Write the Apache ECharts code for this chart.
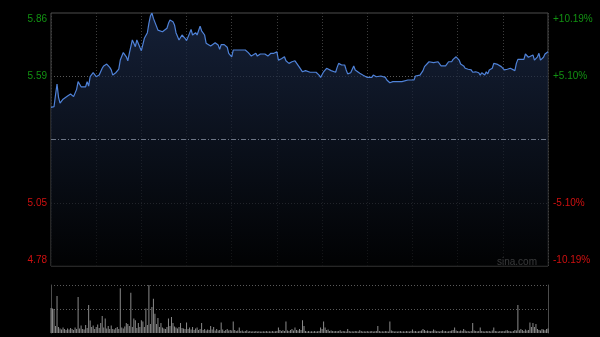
<!DOCTYPE html>
<html><head><meta charset="utf-8">
<script src="https://cdn.jsdelivr.net/npm/echarts@6/dist/echarts.min.js"></script>
<style>html,body{margin:0;padding:0;background:#000;}#c{width:600px;height:337px;}</style>
</head><body><div id="c"></div>
<script>
// minute index (0..330, HK session 09:30-12:00, 13:00-16:00) and price
const priceTrack = [
[0,5.457],[2,5.460],[3,5.510],[4,5.557],[5,5.500],[6,5.475],[8,5.492],[9,5.492],[11,5.506],[13,5.514],
[14,5.514],[15,5.503],[17,5.534],[18,5.567],[19,5.574],[20,5.545],[23,5.545],[24,5.567],[25,5.548],[26,5.588],
[28,5.605],[29,5.603],[30,5.588],[32,5.595],[34,5.624],[35,5.634],[36,5.628],[37,5.642],[38,5.648],[39,5.628],
[40,5.617],[41,5.595],[43,5.605],[45,5.620],[46,5.659],[48,5.691],[49,5.695],[50,5.673],[51,5.656],[52,5.688],
[54,5.745],[55,5.731],[56,5.716],[57,5.745],[59,5.714],[60,5.699],[62,5.752],[64,5.776],[65,5.816],[66,5.847],
[67,5.860],[68,5.837],[70,5.804],[71,5.787],[74,5.780],[75,5.773],[77,5.795],[78,5.816],[79,5.830],[81,5.823],
[82,5.809],[83,5.776],[85,5.745],[87,5.766],[89,5.752],[90,5.742],[92,5.773],[93,5.790],[94,5.766],[96,5.776],
[97,5.766],[99,5.804],[100,5.784],[102,5.766],[103,5.731],[106,5.719],[107,5.726],[109,5.733],[111,5.723],[112,5.705],
[113,5.725],[115,5.725],[117,5.714],[118,5.688],[120,5.673],[121,5.702],[124,5.702],[129,5.702],[131,5.691],[133,5.676],
[134,5.681],[136,5.688],[137,5.676],[139,5.685],[140,5.685],[142,5.685],[144,5.676],[146,5.688],[148,5.688],[149,5.694],
[150,5.694],[151,5.659],[152,5.662],[153,5.665],[155,5.673],[156,5.656],[158,5.645],[160,5.652],[162,5.656],[163,5.652],
[165,5.628],[166,5.620],[167,5.609],[169,5.614],[170,5.607],[172,5.607],[176,5.607],[178,5.595],[179,5.585],[181,5.609],
[183,5.624],[184,5.624],[186,5.614],[187,5.617],[189,5.607],[190,5.628],[191,5.645],[193,5.638],[195,5.638],[196,5.617],
[197,5.600],[199,5.605],[201,5.634],[202,5.617],[203,5.609],[205,5.603],[207,5.595],[208,5.595],[210,5.585],[211,5.592],
[213,5.585],[214,5.595],[216,5.588],[217,5.595],[219,5.591],[220,5.591],[222,5.585],[223,5.574],[225,5.562],[226,5.557],
[227,5.567],[228,5.574],[230,5.567],[233,5.567],[234,5.574],[237,5.574],[241,5.574],[242,5.591],[245,5.595],[247,5.614],
[248,5.631],[249,5.638],[251,5.652],[252,5.648],[254,5.648],[255,5.652],[257,5.652],[259,5.634],[260,5.642],[262,5.634],
[264,5.652],[266,5.652],[267,5.662],[269,5.673],[270,5.671],[271,5.659],[272,5.642],[274,5.634],[275,5.624],[277,5.620],
[279,5.617],[280,5.607],[282,5.609],[283,5.617],[284,5.605],[285,5.595],[286,5.605],[288,5.595],[289,5.609],[290,5.600],
[291,5.617],[293,5.624],[294,5.645],[296,5.642],[297,5.634],[299,5.631],[300,5.624],[301,5.617],[303,5.620],[305,5.624],
[306,5.620],[308,5.614],[309,5.645],[310,5.662],[311,5.656],[312,5.662],[314,5.662],[315,5.685],[317,5.671],[318,5.667],
[320,5.681],[321,5.659],[323,5.673],[324,5.688],[325,5.659],[327,5.671],[328,5.685],[330,5.695]
];
// per-minute volume (relative units), index = minute
const volumes = [
250,245,240,70,370,60,45,35,55,40,
30,45,35,50,40,30,55,40,360,45,
75,40,35,80,50,280,125,60,75,40,
60,85,50,100,170,55,145,45,70,40,
75,40,35,50,60,40,447,55,45,65,
100,90,70,403,60,145,127,50,100,60,
127,115,60,245,80,480,90,260,343,193,
90,150,60,100,55,45,40,60,145,70,
160,100,65,55,45,60,100,50,45,40,
105,40,55,35,60,30,45,55,30,40,
100,30,40,25,35,30,70,35,60,25,
40,25,30,105,35,20,30,40,25,30,
25,115,30,20,25,55,20,25,15,20,
27,15,20,15,18,15,20,15,18,15,
15,18,15,20,15,18,15,20,15,18,
20,55,30,20,27,20,115,25,20,30,
40,25,55,30,25,40,30,127,70,20,
15,20,15,18,15,20,15,18,20,55,
40,115,55,30,35,20,25,20,18,20,
18,20,27,15,20,18,15,40,20,15,
18,15,20,18,15,27,20,15,18,15,
20,15,18,20,15,18,20,70,20,15,
18,15,20,18,15,115,25,20,15,18,
15,18,20,15,18,15,20,18,15,20,
35,18,20,15,18,20,25,40,30,20,
25,20,18,20,35,25,18,20,15,20,
27,18,20,15,18,20,25,30,55,25,
20,18,25,20,40,25,18,20,15,20,
100,25,20,18,20,55,20,18,15,20,
18,20,15,25,55,20,18,15,20,18,
20,18,25,27,20,18,15,20,30,25,
280,27,40,30,20,35,25,30,105,60,
100,60,90,40,30,25,40,35,27,40,45
];
const prevClose = 5.32;
const priceMin = 4.78, priceMax = 5.86, priceStep = 0.27;
const leftTickLabels = ['4.78','5.05','','5.59','5.86'];
const rightTickLabels = ['-10.19%','-5.10%','','+5.10%','+10.19%'];
const sessionMinutes = 330, gridStepMinutes = 30;
const volumeMax = 480;

const GREEN = '#129212', RED = '#d01010';
function tickIdx(v){ return Math.round((v - priceMin) / priceStep); }
function makeFmt(labels){
  return function(v){
    const i = tickIdx(v); const s = labels[i];
    if (!s) return '';
    const c = v > prevClose ? 'g' : 'r';
    const pos = i === labels.length - 1 ? 't' : (i === 0 ? 'b' : 'm');
    return '{' + c + pos + '|' + s + '}';
  };
}
const rich = {
  gt:{color:GREEN, padding:[12,0,0,0], fontSize:10, fontFamily:'Liberation Sans, Arial'},
  gm:{color:GREEN, fontSize:10, fontFamily:'Liberation Sans, Arial'},
  rm:{color:RED, fontSize:10, fontFamily:'Liberation Sans, Arial'},
  rb:{color:RED, padding:[0,0,12,0], fontSize:10, fontFamily:'Liberation Sans, Arial'}
};

const chart = echarts.init(document.getElementById('c'), null, {renderer:'canvas'});
chart.setOption({
  backgroundColor:'#000',
  animation:false,
  textStyle:{fontFamily:'Liberation Sans, Arial'},
  grid:[
    {left:51, top:13, width:497, height:253, show:true, borderColor:'#4c4c4c', borderWidth:1, backgroundColor:'transparent'},
    {left:51, top:285, width:497, height:48}
  ],
  xAxis:[
    {type:'value', gridIndex:0, min:0, max:sessionMinutes, interval:gridStepMinutes,
     axisLine:{show:false}, axisTick:{show:false}, axisLabel:{show:false},
     splitLine:{show:true, lineStyle:{color:'#3e3e3e', type:[1,2], width:1}}},
    {type:'value', gridIndex:1, min:0, max:sessionMinutes,
     axisLine:{show:false}, axisTick:{show:false}, axisLabel:{show:false}, splitLine:{show:false}}
  ],
  yAxis:[
    {type:'value', gridIndex:0, position:'left', min:priceMin, max:priceMax, interval:priceStep,
     axisLine:{show:false}, axisTick:{show:false},
     axisLabel:{margin:4, formatter:makeFmt(leftTickLabels), rich:rich},
     splitLine:{show:true, lineStyle:{color:['rgba(0,0,0,0)','#5a5a5a','rgba(0,0,0,0)','#5a5a5a','rgba(0,0,0,0)'], type:[1,2], width:1}}},
    {type:'value', gridIndex:0, position:'right', min:priceMin, max:priceMax, interval:priceStep,
     axisLine:{show:false}, axisTick:{show:false},
     axisLabel:{margin:5, formatter:makeFmt(rightTickLabels), rich:rich},
     splitLine:{show:false}},
    {type:'value', gridIndex:1, position:'left', min:0, max:volumeMax, interval:volumeMax/2,
     axisLine:{show:true, lineStyle:{color:'#4c4c4c', width:1}}, axisTick:{show:false}, axisLabel:{show:false},
     splitLine:{show:true, lineStyle:{color:['rgba(0,0,0,0)','#5a5a5a','#5a5a5a'], type:[1,2], width:1}}},
    {type:'value', gridIndex:1, position:'right', min:0, max:volumeMax,
     axisLine:{show:true, lineStyle:{color:'#4c4c4c', width:1}}, axisTick:{show:false}, axisLabel:{show:false},
     splitLine:{show:false}}
  ],
  series:[
    {type:'line', xAxisIndex:0, yAxisIndex:0, data:priceTrack, symbol:'none', smooth:false,
     lineStyle:{color:'#4f82d8', width:1.2},
     areaStyle:{origin:'start', color:new echarts.graphic.LinearGradient(0,0,0,1,[
       {offset:0, color:'#1d2d4e'},{offset:0.45, color:'#111a2c'},{offset:1, color:'#020304'}])},
     markLine:{silent:true, symbol:'none', label:{show:false},
       lineStyle:{color:'#6c7585', type:[5,2,1,2], width:1},
       data:[{yAxis:prevClose}]},
     z:3},
    {type:'bar', xAxisIndex:1, yAxisIndex:2, data:volumes.map((v,i)=>[i,v]), barWidth:1,
     itemStyle:{color:'#8a8a8a'}}
  ],
  graphic:[
    {type:'text', x:537, y:262, style:{text:'sina.com', fill:'#b4b4b4', font:'10px "Liberation Sans", Arial', align:'right', verticalAlign:'middle'}}
  ]
});
</script></body></html>
